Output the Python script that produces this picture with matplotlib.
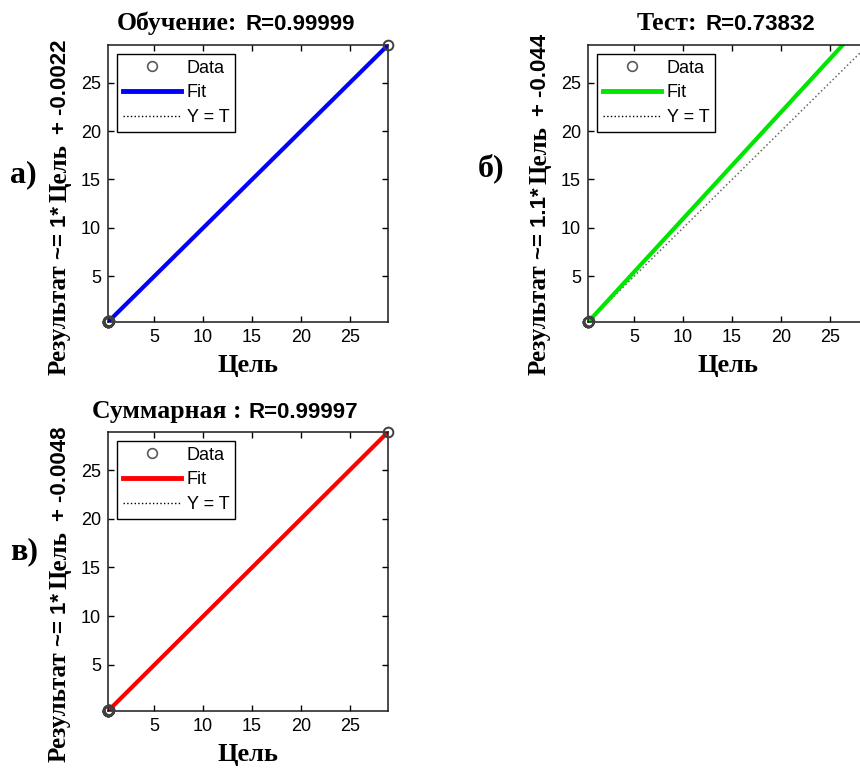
import matplotlib
matplotlib.use("Agg")
import matplotlib.pyplot as plt
from matplotlib.font_manager import FontProperties
from matplotlib.lines import Line2D

# regression data (target / network output) for the three subsets
train_target = [0.28, 0.30, 0.31, 0.32, 0.33, 0.35, 0.30, 0.29, 28.9]
train_output = [0.27, 0.30, 0.30, 0.33, 0.33, 0.34, 0.31, 0.28, 28.9]
test_target = [0.28, 0.30, 0.32, 0.34, 0.31, 28.9]
test_output = [0.27, 0.30, 0.31, 0.33, 0.32, 31.7]
all_target = [0.28, 0.30, 0.31, 0.32, 0.33, 0.35, 0.30, 0.29, 0.34, 0.31, 28.9]
all_output = [0.27, 0.30, 0.30, 0.33, 0.33, 0.34, 0.31, 0.28, 0.33, 0.32, 28.9]

# fit coefficients (slope, intercept) and correlation
train_fit = (1, -0.0022)
test_fit = (1.1, -0.044)
all_fit = (1, -0.0048)
r_values = [0.99999, 0.73832, 0.99997]
titles = ["Обучение:", "Тест:", "Суммарная :"]
slope_txt = ["1", "1.1", "1"]
icpt_txt = ["-0.0022", "-0.044", "-0.0048"]
panel_tags = ["а)", "б)", "в)"]
ticks = [5, 10, 15, 20, 25]

W, H = 860, 769
fig = plt.figure(figsize=(W / 100, H / 100), dpi=100)
renderer = fig.canvas.get_renderer()

serif = "Liberation Serif"
sans = "Liberation Sans"


def fp(family, size, bold=True):
    return FontProperties(family=family, size=size, weight="bold" if bold else "normal")


def put(x, y, s, prop, rot=0):
    # x, y in pixels from the top-left corner, anchor at text baseline start
    return fig.text(x / W, 1 - y / H, s, fontproperties=prop, rotation=rot,
                    rotation_mode="anchor", ha="left", va="baseline")


def chain(x, y, pieces, rot=0):
    for s, prop, gap in pieces:
        t = put(x, y, s, prop, rot)
        bb = t.get_window_extent(renderer)
        if rot == 0:
            x += bb.width + gap
        else:
            y -= bb.height + gap


def panel(box, tgt, out, fit, color, idx, title_xy, ylab_xy, tag_xy):
    left, top, right, bottom = box
    ax = fig.add_axes([left / W, 1 - bottom / H, (right - left) / W, (bottom - top) / H])
    lo = min(min(tgt), min(out))
    hi = max(max(tgt), max(out))
    if idx == 1:
        hi = max(tgt)
    ax.plot(tgt, out, "o", mfc="none", mec="0.25", mew=1.4, ms=7, zorder=3, clip_on=False)
    xs = [lo, hi]
    ax.plot(xs, xs, ":", color="0.4", lw=1.1, zorder=1.5)
    ax.plot(xs, [fit[0] * v + fit[1] for v in xs], color=color, lw=3, zorder=2)
    ax.set_xlim(lo, hi)
    ax.set_ylim(lo, hi)
    ax.set_xticks(ticks)
    ax.set_yticks(ticks)
    ax.tick_params(direction="in", top=True, right=True, length=4, width=1,
                   labelsize=13, pad=5)
    for lab in ax.get_xticklabels() + ax.get_yticklabels():
        lab.set_fontfamily(sans)
    for sp in ax.spines.values():
        sp.set_linewidth(1.1)
        sp.set_color("0.1")

    handles = [
        Line2D([], [], ls="none", marker="o", mfc="none", mec="0.35", mew=1.2, ms=7, label="Data"),
        Line2D([], [], color=color, lw=3.5, label="Fit"),
        Line2D([], [], color="k", ls=":", lw=1, label="Y = T"),
    ]
    leg = ax.legend(handles=handles, loc="upper left",
                    bbox_to_anchor=(9 / (right - left), 1 - 9 / (bottom - top)),
                    borderaxespad=0, fancybox=False, framealpha=1, edgecolor="k",
                    prop=fp(sans, 13, bold=False), handlelength=3.2, handletextpad=0.35,
                    labelspacing=0.42, borderpad=0.32)
    leg.get_frame().set_linewidth(1)

    # title: serif part + sans part
    gap = 7 if titles[idx].endswith(" :") else 8
    chain(title_xy[0], title_xy[1],
          [(titles[idx], fp(serif, 18.5), gap), ("R=%.5f" % r_values[idx], fp(sans, 16), 0)])
    # y label
    chain(ylab_xy[0], ylab_xy[1],
          [("Результат", fp(serif, 18), 5),
           ("~= " + slope_txt[idx] + "*", fp(sans, 16), 4),
           ("Цель", fp(serif, 18), 10),
           ("+ " + icpt_txt[idx], fp(sans, 16), 0)], rot=90)
    # x label
    fig.text((left + right) / 2 / W, 1 - (bottom + 50) / H, "Цель",
             fontproperties=fp(serif, 19), ha="center", va="baseline")
    # panel tag
    put(tag_xy[0], tag_xy[1], panel_tags[idx], fp(serif, 23))
    return ax


panel((108, 45, 388, 322), train_target, train_output, train_fit, "#0000ff", 0,
      (117, 30), (66, 375), (10, 182))
panel((588, 45, 868, 322), test_target, test_output, test_fit, "#00e600", 1,
      (637, 30), (546, 375), (478, 176))
panel((108, 432, 388, 711), all_target, all_output, all_fit, "#ff0000", 2,
      (92, 418), (66, 762), (10, 559))

fig.savefig("out.png", dpi=100)
